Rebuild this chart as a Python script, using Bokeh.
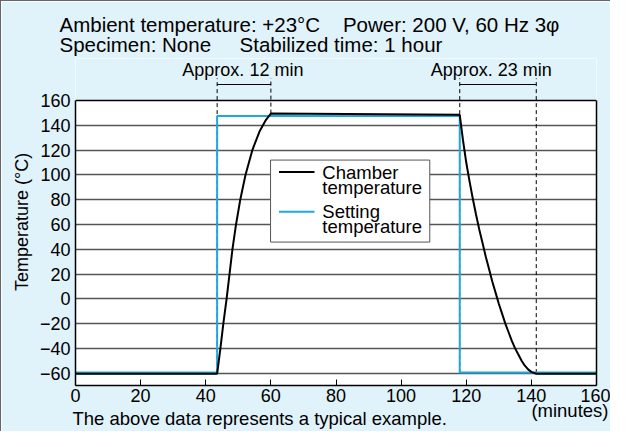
from bokeh.plotting import figure
from bokeh.models import (Range1d, Label, FixedTicker, LinearAxis,
                          BoxAnnotation, Span, Title)
from bokeh.embed import file_html
from bokeh.resources import INLINE

FONT = "Liberation Sans"
BG = "#e0f2fa"
BLUE = "#1fa8e0"

# ---- data ----
setting_min = [0, 43.5, 43.5, 118, 118, 160]
setting_temp = [-59.5, -59.5, 147.5, 147.5, -59.5, -59.5]

chamber_min = [0, 43.5, 44.5, 45.4, 46.4, 47.3, 48.2, 49.3, 50.6, 52.2, 54.3,
               56.5, 58.5, 60, 118, 119, 120, 121, 122, 123, 124, 125, 126,
               127, 128, 129, 130, 131, 132, 133, 134, 135, 136, 137, 138,
               139, 140, 141.5, 160]
chamber_temp = [-60.5, -60.5, -40, -20, 0, 20, 40, 60, 80, 100, 120,
                135, 144.5, 149.5, 148.5, 128, 110, 95, 81, 68, 56, 45, 34,
                24, 14, 5, -4, -12, -20, -27, -34, -40, -45, -50, -54,
                -57, -59, -60.5, -60.5]

y_ticks = [-60, -40, -20, 0, 20, 40, 60, 80, 100, 120, 140, 160]
y_tick_labels = ["\u221260", "\u221240", "\u221220", "0", "20", "40", "60",
                 "80", "100", "120", "140", "160"]
grid_ticks = [-60, -40, -20, 0, 20, 40, 60, 80, 100, 120, 140]
x_ticks = [0, 20, 40, 60, 80, 100, 120, 140, 160]

marker_min = [43.5, 60, 118, 141.5]
marker_low = [-60, 149.5, -60, -60]
bracket_start = [43.5, 118]
bracket_end = [60, 141.5]
bracket_text = ["Approx. 12 min", "Approx. 23 min"]

series_names = ["Chamber", "Setting"]
series_colors = ["black", BLUE]

p = figure(width=610, height=431, x_range=Range1d(0, 160),
           y_range=Range1d(-70, 194), output_backend="svg", title=None,
           toolbar_location=None, min_border_left=74, min_border_right=15,
           min_border_top=57, min_border_bottom=47,
           background_fill_color="white", border_fill_color=BG,
           outline_line_color=None)
p.styles = {"border-top": "1px solid #666", "border-left": "1px solid #666"}

# light blue band above the plotting box
p.add_layout(BoxAnnotation(bottom=160, fill_color=BG, fill_alpha=1,
                           line_color=None, level="underlay"))

# grid
p.xgrid.visible = False
p.ygrid.ticker = FixedTicker(ticks=grid_ticks)
p.ygrid.grid_line_color = "#555555"
p.ygrid.grid_line_width = 1.3

# axes
p.yaxis.ticker = FixedTicker(ticks=y_ticks)
p.yaxis.major_label_overrides = {t: l for t, l in zip(y_ticks, y_tick_labels)}
p.yaxis.bounds = (-70, 160)
p.yaxis.major_tick_in = 0
p.yaxis.major_tick_out = 0
p.yaxis.minor_tick_line_color = None
p.yaxis.axis_line_color = "black"
p.yaxis.axis_line_width = 1.5
p.yaxis.major_label_text_font = FONT
p.yaxis.major_label_text_font_size = "18px"
p.yaxis.major_label_text_color = "black"
p.yaxis.major_label_standoff = 5
p.yaxis.axis_label = "Temperature (\u00b0C)"
p.yaxis.axis_label_text_font = FONT
p.yaxis.axis_label_text_font_size = "18px"
p.yaxis.axis_label_text_font_style = "normal"
p.yaxis.axis_label_text_color = "black"
p.yaxis.axis_label_standoff = 5

p.xaxis.ticker = FixedTicker(ticks=x_ticks)
p.xaxis.major_tick_in = 6
p.xaxis.major_tick_out = 0
p.xaxis.major_tick_line_color = "black"
p.xaxis.major_tick_line_width = 1
p.xaxis.minor_tick_line_color = None
p.xaxis.axis_line_color = "black"
p.xaxis.axis_line_width = 1.5
p.xaxis.major_label_text_font = FONT
p.xaxis.major_label_text_font_size = "18px"
p.xaxis.major_label_text_color = "black"
p.xaxis.major_label_standoff = 3

right = LinearAxis(bounds=(-70, 160), major_tick_in=0, major_tick_out=0,
                   minor_tick_line_color=None, major_label_text_font_size="0px",
                   axis_line_color="black", axis_line_width=1.5,
                   ticker=FixedTicker(ticks=[]))
p.add_layout(right, "right")
p.add_layout(Span(location=160, dimension="width", line_color="black",
                  line_width=1.5))

# titles above
p.add_layout(Title(text="Specimen: None" + "\u00a0" * 5 + "Stabilized time: 1 hour",
                   align="left", offset=-16, standoff=5, text_font=FONT,
                   text_font_size="20.5px", text_font_style="normal",
                   text_color="black"), "above")
p.add_layout(Title(text="Ambient temperature: +23\u00b0C" + "\u00a0" * 4 +
                   "Power: 200 V, 60 Hz 3\u03c6",
                   align="left", offset=-16, standoff=-15, text_font=FONT,
                   text_font_size="20.5px", text_font_style="normal",
                   text_color="black"), "above")
# unit note and footnote below
p.add_layout(Title(text="(minutes)", align="right", offset=-12, standoff=-9,
                   vertical_align="top", text_font=FONT,
                   text_font_size="18.5px", text_font_style="normal",
                   text_color="black"), "below")
p.add_layout(Title(text="The above data represents a typical example.",
                   align="left", offset=-3, standoff=-22, vertical_align="top",
                   text_font=FONT, text_font_size="18.5px",
                   text_font_style="normal", text_color="black"), "below")

# dashed markers and brackets
p.segment(x0=marker_min, y0=marker_low, x1=marker_min,
          y1=[178] * len(marker_min), line_color="black", line_width=1,
          line_dash="4 3")
p.segment(x0=bracket_start, y0=[173] * 2, x1=bracket_end, y1=[173] * 2,
          line_color="black", line_width=1)
for xs, xe, t, shift in zip(bracket_start, bracket_end, bracket_text, [-0.35, -2.05]):
    p.add_layout(Label(x=(xs + xe) / 2 + shift, y=185.1, text=t,
                       text_font=FONT, text_font_size="18px",
                       text_align="center", text_baseline="middle",
                       text_color="black"))

# curves
p.line(setting_min, setting_temp, line_color=BLUE, line_width=2)
p.line(chamber_min, chamber_temp, line_color="black", line_width=2)

# legend box (placed in data units)
LEG_L, LEG_R, LEG_B, LEG_T = 59.9, 108.8, 45.8, 112.0
SAMPLE_X0, SAMPLE_X1, TEXT_X = 62.5, 73.4, 75.8
row_y = [[102.3, 90.1], [70.2, 58.5]]
p.quad(left=[LEG_L], right=[LEG_R], bottom=[LEG_B], top=[LEG_T],
       fill_color="white", line_color="#555555", line_width=1)
for name, col, (y1, y2) in zip(series_names, series_colors, row_y):
    p.segment(x0=[SAMPLE_X0], y0=[y1], x1=[SAMPLE_X1], y1=[y1],
              line_color=col, line_width=2)
    for txt, yy in zip([name, "temperature"], [y1, y2]):
        p.add_layout(Label(x=TEXT_X, y=yy, text=txt, text_font=FONT,
                           text_font_size="18.5px", text_align="left",
                           text_baseline="middle", text_color="black"))

open("out.html", "w").write(file_html(p, INLINE))
